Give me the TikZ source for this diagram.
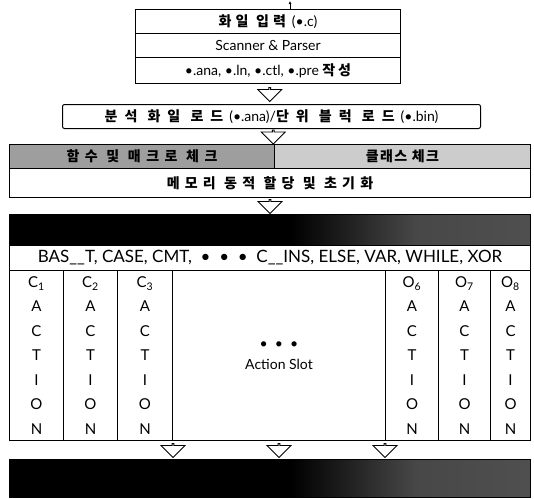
\documentclass[tikz,border=0pt]{standalone}
\usepackage{fontspec}
\setmainfont{Lato}
\newfontfamily\kr{Noto Sans CJK KR}
\newcommand\ks[2]{{\kr\bfseries\addfontfeature{LetterSpace=#1}#2}}
\usetikzlibrary{shapes.arrows,calc,arrows.meta}
\pgfdeclarehorizontalshading{darkband}{100bp}{color(0bp)=(black); color(52bp)=(black); color(64bp)=(black!72); color(100bp)=(black!62)}

\begin{document}
\begin{tikzpicture}[x=1pt, y=-1pt, line width=1pt,
	box/.style={draw, anchor=north west, inner sep=0pt, minimum width=#1},
	txt/.style={font=\fontsize{14}{16}\selectfont},
	col/.style={align=center, font=\fontsize{15}{24.5}\selectfont},
	flow/.style={single arrow, draw, fill=white, line width=.8pt, shape border rotate=270,
		minimum height=14, minimum width=24, single arrow head extend=5, inner sep=0pt}]
	\useasboundingbox (0,0) rectangle (534,498);

	% 입력 및 파싱
	\node[box=265, minimum height=24, txt] (file) at (135,9) {\ks{30}{화일 입력}\hspace{6pt}(\textbullet.c)};
	\node[box=265, minimum height=24, txt] (scan) at (135,33) {Scanner \& Parser};
	\node[box=265, minimum height=26, txt] (make) at (135,57) {\textbullet.ana, \textbullet.ln, \textbullet.ctl, \textbullet.pre \ks{20}{작성}};
	\coordinate (entry) at (290,1);
	\draw[line width=.6pt, -{Latex[length=3pt, width=3pt]}] (file.north -| entry) -- (entry);

	% 로드
	\node[box=418, minimum height=24, rounded corners=2, txt] (load) at (62,104)
		{\ks{50}{분석 화일 로드}\hspace{6pt}(\textbullet.ana)/\ks{50}{단위 블럭 로드}\hspace{6pt}(\textbullet.bin)};
	\node[flow] (a1) at ($(make.south)!.5!(load.north)$) {};

	% 체크 및 초기화
	\node[box=265, minimum height=24, fill=black!38, txt] (func) at (9,144) {\ks{39}{함수 및 매크로 체크}};
	\node[box=256, minimum height=24, fill=black!20, txt] (class) at (274,144) {\ks{10}{클래스 체크}};
	\node[box=521, minimum height=29, txt] (mem) at (9,168) {\ks{37}{메모리 동적 할당 및 초기화}};
	\node[flow] (a2) at ($(load.south)!.5!(func.north east)$) {};

	% 액션 테이블
	\node[box=521, minimum height=31, shading=darkband] (band1) at (9,214) {};
	\node[flow] (a3) at ($(mem.south)!.5!(mem.south |- band1.north)$) {};
	\node[box=521, minimum height=25, font=\fontsize{17}{19}\selectfont] (keys) at (9,245)
		{BAS\_\_T, CASE, CMT, \ \textbullet\ \ \textbullet\ \ \textbullet\ \ C\_\_INS, ELSE, VAR, WHILE, XOR};
	% columns
	\node[box=54, minimum height=170, col] (c1) at (9,270) {C\textsubscript{1}\\A\\C\\T\\I\\O\\N};
	\node[box=54, minimum height=170, col] (c2) at (63,270) {C\textsubscript{2}\\A\\C\\T\\I\\O\\N};
	\node[box=55, minimum height=170, col] (c3) at (117,270) {C\textsubscript{3}\\A\\C\\T\\I\\O\\N};
	\node[box=213, minimum height=170, align=center, font=\fontsize{14}{21}\selectfont] (slot) at (172,270)
		{\textbullet\ \ \textbullet\ \ \textbullet\\Action Slot};
	\node[box=53, minimum height=170, col] (o6) at (385,270) {O\textsubscript{6}\\A\\C\\T\\I\\O\\N};
	\node[box=52, minimum height=170, col] (o7) at (438,270) {O\textsubscript{7}\\A\\C\\T\\I\\O\\N};
	\node[box=40, minimum height=170, col] (o8) at (490,270) {O\textsubscript{8}\\A\\C\\T\\I\\O\\N};

	% 출력
	\node[box=521, minimum height=38, shading=darkband] (band2) at (9,459) {};
	\node[flow] (a4) at ($(c3.south east)!.5!(c3.south east |- band2.north)$) {};
	\node[flow] (a5) at ($(slot.south)!.5!(slot.south |- band2.north)$) {};
	\node[flow] (a6) at ($(o6.south west)!.5!(o6.south west |- band2.north)$) {};
\end{tikzpicture}
\end{document}
